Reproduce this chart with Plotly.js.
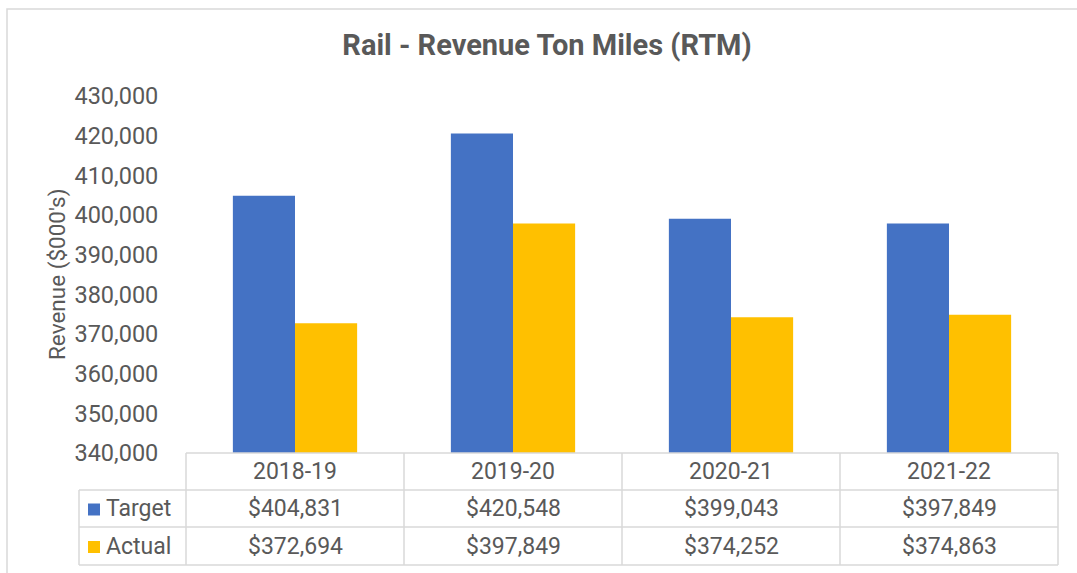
<!DOCTYPE html>
<html>
<head>
<meta charset="utf-8">
<script src="https://cdn.plot.ly/plotly-3.0.1.min.js"></script>
<style>html,body{margin:0;padding:0;background:#fff;}#chart{width:1077px;height:573px;}</style>
</head>
<body>
<div id="chart"></div>
<script>
const categories = ["2018-19", "2019-20", "2020-21", "2021-22"];
const targetValues = [404831, 420548, 399043, 397849];
const actualValues = [372694, 397849, 374252, 374863];
const seriesNames = ["Target", "Actual"];
const yTickValues = [340000, 350000, 360000, 370000, 380000, 390000, 400000, 410000, 420000, 430000];

const W = 1077, H = 573;
const L = 186, R = 1058, T = 96, B = 453;
const colors = ["#4472C4", "#FFC000"];
const textColor = "#595959";
const gridColor = "#D9D9D9";
const FONT = "Roboto, 'Open Sans', sans-serif";

const px = x => (x - L) / (R - L);
const py = y => (B - y) / (B - T);

const fmt = v => "$" + v.toLocaleString("en-US");

const traces = [
  {type: "bar", name: seriesNames[0], x: categories, y: targetValues, marker: {color: colors[0]}, hoverinfo: "x+y"},
  {type: "bar", name: seriesNames[1], x: categories, y: actualValues, marker: {color: colors[1]}, hoverinfo: "x+y"}
];

const rowTop = [453, 490, 527, 565];
const shapes = [];
const line = {color: gridColor, width: 1.5};
// outer chart border
shapes.push({type: "rect", xref: "paper", yref: "paper", x0: px(7), x1: px(1090), y0: py(9), y1: py(590), line: {color: "#D9D9D9", width: 1.5}, fillcolor: "rgba(0,0,0,0)", layer: "below"});
// table horizontal lines
shapes.push({type: "line", xref: "paper", yref: "paper", x0: 0, x1: 1, y0: py(rowTop[0]), y1: py(rowTop[0]), line});
for (let i = 1; i < rowTop.length; i++) {
  shapes.push({type: "line", xref: "paper", yref: "paper", x0: px(79), x1: 1, y0: py(rowTop[i]), y1: py(rowTop[i]), line});
}
// vertical lines
const nCat = categories.length;
for (let i = 0; i <= nCat; i++) {
  shapes.push({type: "line", xref: "paper", yref: "paper", x0: i / nCat, x1: i / nCat, y0: py(rowTop[0]), y1: py(rowTop[3]), line});
}
shapes.push({type: "line", xref: "paper", yref: "paper", x0: px(79), x1: px(79), y0: py(rowTop[1]), y1: py(rowTop[3]), line});

const annotations = [];
const tfont = {family: FONT, size: 23, color: textColor};
const rowCenters = [(rowTop[0] + rowTop[1]) / 2, (rowTop[1] + rowTop[2]) / 2, (rowTop[2] + rowTop[3]) / 2];
categories.forEach((c, i) => {
  annotations.push({xref: "x", yref: "paper", x: c, y: py(rowCenters[0]), text: c, showarrow: false, font: tfont, xanchor: "center", yanchor: "middle"});
  annotations.push({xref: "x", yref: "paper", x: c, y: py(rowCenters[1]), text: fmt(targetValues[i]), showarrow: false, font: tfont, xanchor: "center", yanchor: "middle"});
  annotations.push({xref: "x", yref: "paper", x: c, y: py(rowCenters[2]), text: fmt(actualValues[i]), showarrow: false, font: tfont, xanchor: "center", yanchor: "middle"});
});
// legend keys in table
seriesNames.forEach((n, k) => {
  const cy = rowCenters[k + 1];
  shapes.push({type: "rect", xref: "paper", yref: "paper", x0: px(88), x1: px(100), y0: py(cy - 5), y1: py(cy + 7), line: {width: 0}, fillcolor: colors[k]});
  annotations.push({xref: "paper", yref: "paper", x: px(104), y: py(cy), text: n, showarrow: false, font: tfont, xanchor: "left", yanchor: "middle"});
});
// y-axis title
annotations.push({xref: "paper", yref: "paper", x: px(57), y: py(275), text: "Revenue ($000's)", textangle: -90, showarrow: false, font: {family: FONT, size: 22.5, color: textColor}, xanchor: "center", yanchor: "middle"});

const layout = {
  width: W, height: H,
  margin: {l: L, r: W - R, t: T, b: H - B, pad: 0},
  paper_bgcolor: "#ffffff", plot_bgcolor: "#ffffff",
  title: {text: "<b>Rail - Revenue Ton Miles (RTM)</b>", font: {family: FONT, size: 29, color: textColor}, xref: "container", yref: "container", x: 547 / W, y: 1 - 45 / H, xanchor: "center", yanchor: "middle"},
  showlegend: false,
  barmode: "group", bargap: 0.43, bargroupgap: 0,
  xaxis: {type: "category", showticklabels: false, showgrid: false, zeroline: false, showline: false, ticks: ""},
  yaxis: {range: [340000, 430000], tickvals: yTickValues, tickformat: ",d", showgrid: false, zeroline: false, showline: false,
          ticks: "outside", ticklen: 22, tickcolor: "rgba(0,0,0,0)", tickfont: {family: FONT, size: 23.5, color: textColor}},
  shapes, annotations
};

Plotly.newPlot("chart", traces, layout, {displayModeBar: false, staticPlot: true});
</script>
</body>
</html>
